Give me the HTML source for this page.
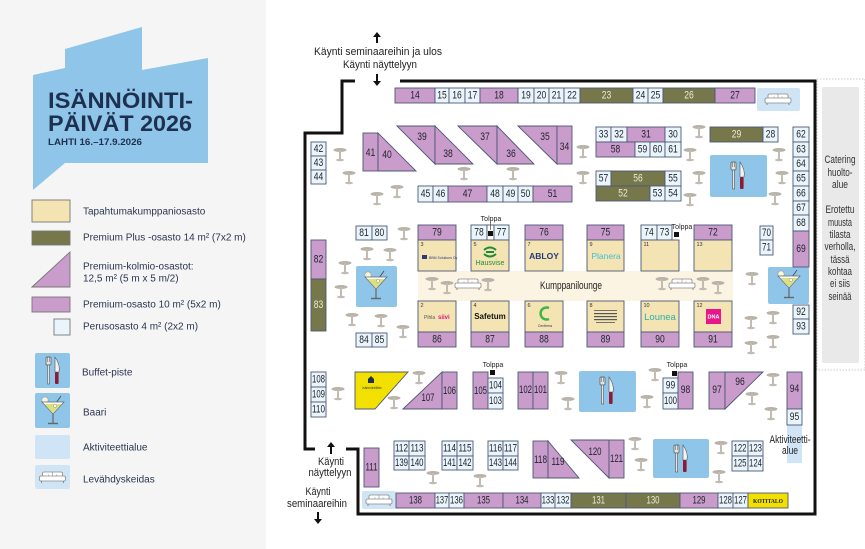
<!DOCTYPE html>
<html><head><meta charset="utf-8"><style>
html,body{margin:0;padding:0;background:#fff}
svg{display:block}
.n{font-family:"Liberation Sans",sans-serif;font-size:11px;fill:#22252f;text-anchor:middle;dominant-baseline:central}
.w{fill:#ecebd8}
.p{fill:#c99ccb;stroke:#4d5874;stroke-width:.9}
.o{fill:#76784b;stroke:#4d5874;stroke-width:.9}
.b{fill:#f4e4b4;stroke:#4d5874;stroke-width:.9}
.l{fill:#eaf4fb;stroke:#4d5874;stroke-width:.9}
.s{font-family:"Liberation Sans",sans-serif;font-size:5.5px;fill:#333}
.t{font-family:"Liberation Sans",sans-serif;font-size:11px;fill:#222;text-anchor:middle;dominant-baseline:central}
.lg{font-family:"Liberation Sans",sans-serif;font-size:10px;fill:#2a3550;dominant-baseline:central}
.tp{font-family:"Liberation Sans",sans-serif;font-size:7px;fill:#222;text-anchor:middle}
</style></head><body>
<svg width="865" height="549" viewBox="0 0 865 549" xmlns="http://www.w3.org/2000/svg">
<defs>
<g id="tb"><ellipse cx="0" cy="0" rx="6.5" ry="2" fill="#b9b2a8"/><rect x="-1" y="0" width="2" height="9" fill="#c2bbb1"/><ellipse cx="0" cy="10" rx="4" ry="1.2" fill="#c2bbb1"/></g>
<g id="fk"><rect x="-7" y="-14" width="5" height="8" rx="1" fill="#e4e4e4" stroke="#555" stroke-width=".7"/><line x1="-5.7" y1="-14" x2="-5.7" y2="-9" stroke="#555" stroke-width=".5"/><line x1="-3.3" y1="-14" x2="-3.3" y2="-9" stroke="#555" stroke-width=".5"/><rect x="-5.5" y="-6" width="2" height="19" fill="#e4e4e4" stroke="#555" stroke-width=".6"/><path d="M2,-14 Q7.5,-6 6,1 L2,1 Z" fill="#f2f2f2" stroke="#555" stroke-width=".6"/><rect x="2" y="1" width="3.6" height="12" rx="1" fill="#8d1b33"/></g>
<g id="mt"><circle cx="-8" cy="-10" r="3.2" fill="#f6f6dc" stroke="#999" stroke-width=".6"/><line x1="3" y1="-7" x2="8" y2="-14" stroke="#444" stroke-width=".8"/><path d="M-11,-8 L11,-8 L0,4 Z" fill="#fff" stroke="#666" stroke-width=".7"/><path d="M-8.5,-6 L8.5,-6 L0,3 Z" fill="#dbe27c"/><circle cx="2" cy="-4" r="1.6" fill="#fff" stroke="#777" stroke-width=".4"/><line x1="0" y1="4" x2="0" y2="13" stroke="#666" stroke-width="1.2"/><line x1="-5" y1="13.5" x2="5" y2="13.5" stroke="#666" stroke-width="1.4"/></g>
<g id="sf"><rect x="-10" y="-5" width="20" height="7" rx="1.5" fill="#fff" stroke="#8a8a8a" stroke-width=".8"/><line x1="0" y1="-5" x2="0" y2="2" stroke="#8a8a8a" stroke-width=".6"/><rect x="-13" y="-1" width="26" height="5" rx="1.5" fill="#fff" stroke="#8a8a8a" stroke-width=".8"/><line x1="-11" y1="4" x2="-11" y2="6" stroke="#8a8a8a"/><line x1="11" y1="4" x2="11" y2="6" stroke="#8a8a8a"/><circle cx="-4" cy="-2" r=".5" fill="#999"/><circle cx="4" cy="-2" r=".5" fill="#999"/></g>
</defs>

<!-- left panel -->
<rect x="0" y="0" width="266" height="549" fill="#f5f5f5"/>
<polygon points="33,75 65,68 65,49 142,27 142,70 208,58 208,163 65,163 33,190" fill="#8fc5e8"/>
<text x="48" y="108" font-family="Liberation Sans,sans-serif" font-weight="bold" font-size="22" fill="#1e3050" textLength="145" lengthAdjust="spacingAndGlyphs">ISÄNNÖINTI-</text>
<text x="48" y="131" font-family="Liberation Sans,sans-serif" font-weight="bold" font-size="22" fill="#1e3050" textLength="144" lengthAdjust="spacingAndGlyphs">PÄIVÄT 2026</text>
<text x="48" y="145" font-family="Liberation Sans,sans-serif" font-weight="bold" font-size="9" fill="#1e3050" textLength="94" lengthAdjust="spacingAndGlyphs">LAHTI 16.–17.9.2026</text>

<rect x="32" y="200" width="38" height="22" fill="#f4e4b4" stroke="#777" stroke-width=".9"/>
<text class="lg" x="83" y="212">Tapahtumakumppaniosasto</text>
<rect x="32" y="231" width="38" height="14" fill="#76784b" stroke="#777" stroke-width=".9"/>
<text class="lg" x="83" y="238">Premium Plus -osasto 14 m² (7x2 m)</text>
<polygon points="32,287 70,252 70,287" fill="#c99ccb" stroke="#777" stroke-width=".9"/>
<text class="lg" x="83" y="267">Premium-kolmio-osastot:</text>
<text class="lg" x="83" y="279">12,5 m² (5 m x 5 m/2)</text>
<rect x="32" y="297" width="38" height="15" fill="#c99ccb" stroke="#777" stroke-width=".9"/>
<text class="lg" x="83" y="305">Premium-osasto 10 m² (5x2 m)</text>
<rect x="54" y="319" width="16" height="16" fill="#eaf4fb" stroke="#777" stroke-width=".9"/>
<text class="lg" x="83" y="327">Perusosasto 4 m² (2x2 m)</text>
<rect x="35" y="353" width="35" height="35" rx="2" fill="#8fc5e8"/>
<use href="#fk" x="53" y="371"/>
<text class="lg" x="82" y="373">Buffet-piste</text>
<rect x="35" y="393" width="35" height="35" rx="2" fill="#8fc5e8"/>
<use href="#mt" x="53" y="410"/>
<text class="lg" x="83" y="413">Baari</text>
<rect x="35" y="435" width="35" height="24" rx="2" fill="#cfe5f6"/>
<text class="lg" x="83" y="448">Aktiviteettialue</text>
<rect x="35" y="465" width="35" height="24" rx="2" fill="#cfe5f6"/>
<use href="#sf" x="52.5" y="477"/>
<text class="lg" x="83" y="480">Levähdyskeidas</text>

<!-- catering -->
<rect x="817" y="79" width="48" height="291" fill="none" stroke="#bbb" stroke-width=".8" stroke-dasharray="1.5,1.5"/>
<rect x="822" y="87" width="37" height="276" rx="2" fill="#e9e9e9"/>
<g font-family="Liberation Sans,sans-serif" font-size="11" fill="#333" text-anchor="middle" dominant-baseline="central">
<text x="840" y="160" textLength="31" lengthAdjust="spacingAndGlyphs">Catering</text>
<text x="840" y="173" textLength="25" lengthAdjust="spacingAndGlyphs">huolto-</text>
<text x="840" y="185" textLength="16" lengthAdjust="spacingAndGlyphs">alue</text>
<text x="840" y="210" textLength="29" lengthAdjust="spacingAndGlyphs">Erotettu</text>
<text x="840" y="223" textLength="24" lengthAdjust="spacingAndGlyphs">muusta</text>
<text x="840" y="235" textLength="21" lengthAdjust="spacingAndGlyphs">tilasta</text>
<text x="840" y="247" textLength="31" lengthAdjust="spacingAndGlyphs">verholla,</text>
<text x="840" y="260" textLength="19" lengthAdjust="spacingAndGlyphs">tässä</text>
<text x="840" y="272" textLength="24" lengthAdjust="spacingAndGlyphs">kohtaa</text>
<text x="840" y="284" textLength="20" lengthAdjust="spacingAndGlyphs">ei siis</text>
<text x="840" y="297" textLength="23" lengthAdjust="spacingAndGlyphs">seinää</text>
</g>

<!-- walls -->
<polyline points="355,81 342,81 342,133 305,133 305,449 315,449" fill="none" stroke="#111" stroke-width="3"/>
<polyline points="400,81 815,81 815,514 358,514 358,449 346,449" fill="none" stroke="#111" stroke-width="3"/>

<!-- entrance labels & arrows -->
<g fill="#111">
<polygon points="377,32 373,37 376,37 376,43 378,43 378,37 381,37"/>
<polygon points="377,86 373,81 376,81 376,74 378,74 378,81 381,81"/>
<polygon points="331,442 327,447 330,447 330,454 332,454 332,447 335,447"/>
<polygon points="318,524 314,519 317,519 317,512 319,512 319,519 322,519"/>
</g>
<text class="t" x="378" y="52" textLength="128" lengthAdjust="spacingAndGlyphs">Käynti seminaareihin ja ulos</text>
<text class="t" x="380" y="65" textLength="74" lengthAdjust="spacingAndGlyphs">Käynti näyttelyyn</text>
<text class="t" x="331" y="462" textLength="26" lengthAdjust="spacingAndGlyphs">Käynti</text>
<text class="t" x="330" y="473" textLength="43" lengthAdjust="spacingAndGlyphs">näyttelyyn</text>
<text class="t" x="318" y="492" textLength="25" lengthAdjust="spacingAndGlyphs">Käynti</text>
<text class="t" x="317" y="504" textLength="60" lengthAdjust="spacingAndGlyphs">seminaareihin</text>

<!-- areas -->
<rect x="757" y="88" width="43" height="23" rx="2" fill="#cfe5f6"/><use href="#sf" x="778" y="99"/>
<rect x="710" y="155" width="57" height="42" rx="2" fill="#8fc5e8"/><use href="#fk" x="738" y="176"/>
<rect x="356" y="266" width="41" height="41" rx="2" fill="#8fc5e8"/><use href="#mt" x="376" y="285"/>
<rect x="768" y="267" width="41" height="37" rx="2" fill="#8fc5e8"/><use href="#mt" x="789" y="284"/>
<rect x="418" y="271" width="315" height="30" fill="#fcf4e2"/>
<text class="t" x="571" y="286" textLength="62" lengthAdjust="spacingAndGlyphs">Kumppanilounge</text>
<use href="#sf" x="468" y="284"/><use href="#sf" x="682" y="284"/>
<rect x="579" y="371" width="57" height="41" rx="2" fill="#8fc5e8"/><use href="#fk" x="607" y="391"/>
<rect x="653" y="439" width="56" height="39" rx="2" fill="#8fc5e8"/><use href="#fk" x="681" y="459"/>
<rect x="787" y="425" width="15" height="38" fill="#cfe5f6"/>
<text class="t" x="790" y="440" textLength="41" lengthAdjust="spacingAndGlyphs">Aktiviteetti-</text>
<text class="t" x="790" y="451" textLength="16" lengthAdjust="spacingAndGlyphs">alue</text>
<rect x="362" y="491" width="34" height="18" rx="2" fill="#cfe5f6"/><use href="#sf" x="379" y="500"/>

<!-- tables -->
<g>
<use href="#tb" x="340" y="150"/><use href="#tb" x="349" y="173"/><use href="#tb" x="377" y="194"/><use href="#tb" x="397" y="187"/>
<use href="#tb" x="464" y="169"/><use href="#tb" x="513" y="169"/><use href="#tb" x="583" y="147"/><use href="#tb" x="583" y="173"/>
<use href="#tb" x="699" y="127"/><use href="#tb" x="690" y="150"/><use href="#tb" x="699" y="173"/><use href="#tb" x="690" y="195"/>
<use href="#tb" x="779" y="150"/><use href="#tb" x="782" y="173"/><use href="#tb" x="775" y="194"/>
<use href="#tb" x="404" y="229"/><use href="#tb" x="367" y="249"/><use href="#tb" x="390" y="250"/><use href="#tb" x="345" y="263"/>
<use href="#tb" x="341" y="287"/><use href="#tb" x="352" y="315"/><use href="#tb" x="381" y="316"/><use href="#tb" x="403" y="327"/>
<use href="#tb" x="432" y="279"/><use href="#tb" x="447" y="283"/><use href="#tb" x="488" y="280"/>
<use href="#tb" x="662" y="279"/><use href="#tb" x="703" y="279"/><use href="#tb" x="718" y="283"/>
<use href="#tb" x="752" y="274"/><use href="#tb" x="751" y="318"/><use href="#tb" x="773" y="313"/><use href="#tb" x="751" y="343"/><use href="#tb" x="773" y="337"/>
<use href="#tb" x="338" y="389"/><use href="#tb" x="419" y="373"/><use href="#tb" x="394" y="398"/><use href="#tb" x="561" y="373"/><use href="#tb" x="568" y="399"/>
<use href="#tb" x="655" y="370"/><use href="#tb" x="647" y="397"/><use href="#tb" x="773" y="375"/><use href="#tb" x="752" y="394"/><use href="#tb" x="771" y="409"/>
<use href="#tb" x="433" y="473"/><use href="#tb" x="480" y="476"/><use href="#tb" x="635" y="439"/><use href="#tb" x="641" y="460"/><use href="#tb" x="721" y="443"/><use href="#tb" x="719" y="472"/>
</g>

<!-- top row -->
<rect class="p" x="395" y="88" width="40" height="15"/><rect class="l" x="435" y="88" width="14" height="15"/><rect class="l" x="449" y="88" width="16" height="15"/><rect class="l" x="465" y="88" width="15" height="15"/>
<rect class="p" x="480" y="88" width="38" height="15"/><rect class="l" x="518" y="88" width="16" height="15"/><rect class="l" x="534" y="88" width="15" height="15"/><rect class="l" x="549" y="88" width="15" height="15"/><rect class="l" x="564" y="88" width="16" height="15"/>
<rect class="o" x="580" y="88" width="53" height="15"/><rect class="l" x="633" y="88" width="15" height="15"/><rect class="l" x="648" y="88" width="15" height="15"/><rect class="o" x="663" y="88" width="52" height="15"/><rect class="p" x="715" y="88" width="40" height="15"/>
<text class="n" x="415" y="95.5" textLength="9.5" lengthAdjust="spacingAndGlyphs">14</text>
<text class="n" x="442" y="95.5" textLength="9.5" lengthAdjust="spacingAndGlyphs">15</text>
<text class="n" x="457" y="95.5" textLength="9.5" lengthAdjust="spacingAndGlyphs">16</text>
<text class="n" x="472.5" y="95.5" textLength="9.5" lengthAdjust="spacingAndGlyphs">17</text>
<text class="n" x="499" y="95.5" textLength="9.5" lengthAdjust="spacingAndGlyphs">18</text>
<text class="n" x="526" y="95.5" textLength="9.5" lengthAdjust="spacingAndGlyphs">19</text>
<text class="n" x="541.5" y="95.5" textLength="9.5" lengthAdjust="spacingAndGlyphs">20</text>
<text class="n" x="556.5" y="95.5" textLength="9.5" lengthAdjust="spacingAndGlyphs">21</text>
<text class="n" x="572" y="95.5" textLength="9.5" lengthAdjust="spacingAndGlyphs">22</text>
<text class="n w" x="606.5" y="95.5" textLength="9.5" lengthAdjust="spacingAndGlyphs">23</text>
<text class="n" x="640.5" y="95.5" textLength="9.5" lengthAdjust="spacingAndGlyphs">24</text>
<text class="n" x="655.5" y="95.5" textLength="9.5" lengthAdjust="spacingAndGlyphs">25</text>
<text class="n w" x="689" y="95.5" textLength="9.5" lengthAdjust="spacingAndGlyphs">26</text>
<text class="n" x="735" y="95.5" textLength="9.5" lengthAdjust="spacingAndGlyphs">27</text>

<!-- triangles row -->
<rect class="p" x="363" y="133" width="15" height="38"/>
<polygon class="p" points="378,133 378,171 416,171"/>
<polygon class="p" points="397,126 435,126 435,164"/><polygon class="p" points="435,126 473,164 435,164"/>
<polygon class="p" points="458,126 497,126 497,164"/><polygon class="p" points="497,126 534,164 497,164"/>
<polygon class="p" points="518,126 557,126 557,164"/><rect class="p" x="557" y="126" width="15" height="38"/>
<text class="n" x="370.5" y="153" textLength="9.5" lengthAdjust="spacingAndGlyphs">41</text>
<text class="n" x="387" y="155" textLength="9.5" lengthAdjust="spacingAndGlyphs">40</text>
<text class="n" x="422" y="137" textLength="9.5" lengthAdjust="spacingAndGlyphs">39</text>
<text class="n" x="448" y="154" textLength="9.5" lengthAdjust="spacingAndGlyphs">38</text>
<text class="n" x="485" y="137" textLength="9.5" lengthAdjust="spacingAndGlyphs">37</text>
<text class="n" x="511" y="154" textLength="9.5" lengthAdjust="spacingAndGlyphs">36</text>
<text class="n" x="545" y="137" textLength="9.5" lengthAdjust="spacingAndGlyphs">35</text>
<text class="n" x="564.5" y="147" textLength="9.5" lengthAdjust="spacingAndGlyphs">34</text>

<rect class="l" x="311" y="142" width="15" height="14"/><rect class="l" x="311" y="156" width="15" height="14"/><rect class="l" x="311" y="170" width="15" height="14"/>
<text class="n" x="318.5" y="149" textLength="9.5" lengthAdjust="spacingAndGlyphs">42</text>
<text class="n" x="318.5" y="163" textLength="9.5" lengthAdjust="spacingAndGlyphs">43</text>
<text class="n" x="318.5" y="177" textLength="9.5" lengthAdjust="spacingAndGlyphs">44</text>

<rect class="l" x="418" y="186" width="15" height="16"/><rect class="l" x="433" y="186" width="15" height="16"/><rect class="p" x="448" y="186" width="39" height="16"/>
<rect class="l" x="487" y="186" width="16" height="16"/><rect class="l" x="503" y="186" width="15" height="16"/><rect class="l" x="518" y="186" width="15" height="16"/><rect class="p" x="533" y="186" width="39" height="16"/>
<text class="n" x="425.5" y="194" textLength="9.5" lengthAdjust="spacingAndGlyphs">45</text>
<text class="n" x="440.5" y="194" textLength="9.5" lengthAdjust="spacingAndGlyphs">46</text>
<text class="n" x="467.5" y="194" textLength="9.5" lengthAdjust="spacingAndGlyphs">47</text>
<text class="n" x="495" y="194" textLength="9.5" lengthAdjust="spacingAndGlyphs">48</text>
<text class="n" x="510.5" y="194" textLength="9.5" lengthAdjust="spacingAndGlyphs">49</text>
<text class="n" x="525.5" y="194" textLength="9.5" lengthAdjust="spacingAndGlyphs">50</text>
<text class="n" x="552.5" y="194" textLength="9.5" lengthAdjust="spacingAndGlyphs">51</text>

<!-- block 30-61 -->
<rect class="l" x="596" y="127" width="15" height="15"/><rect class="l" x="611" y="127" width="16" height="15"/><rect class="p" x="627" y="127" width="38" height="15"/><rect class="l" x="665" y="127" width="16" height="15"/>
<rect class="p" x="596" y="142" width="39" height="15"/><rect class="l" x="635" y="142" width="15" height="15"/><rect class="l" x="650" y="142" width="15" height="15"/><rect class="l" x="665" y="142" width="16" height="15"/>
<rect class="l" x="596" y="171" width="15" height="15"/><rect class="o" x="611" y="171" width="54" height="15"/><rect class="l" x="665" y="171" width="16" height="15"/>
<rect class="o" x="596" y="186" width="54" height="15"/><rect class="l" x="650" y="186" width="15" height="15"/><rect class="l" x="665" y="186" width="16" height="15"/>
<rect class="o" x="710" y="127" width="53" height="15"/><rect class="l" x="763" y="127" width="15" height="15"/>
<text class="n" x="603.5" y="134.5" textLength="9.5" lengthAdjust="spacingAndGlyphs">33</text>
<text class="n" x="619" y="134.5" textLength="9.5" lengthAdjust="spacingAndGlyphs">32</text>
<text class="n" x="646" y="134.5" textLength="9.5" lengthAdjust="spacingAndGlyphs">31</text>
<text class="n" x="673" y="134.5" textLength="9.5" lengthAdjust="spacingAndGlyphs">30</text>
<text class="n" x="615.5" y="149.5" textLength="9.5" lengthAdjust="spacingAndGlyphs">58</text>
<text class="n" x="642.5" y="149.5" textLength="9.5" lengthAdjust="spacingAndGlyphs">59</text>
<text class="n" x="657.5" y="149.5" textLength="9.5" lengthAdjust="spacingAndGlyphs">60</text>
<text class="n" x="673" y="149.5" textLength="9.5" lengthAdjust="spacingAndGlyphs">61</text>
<text class="n" x="603.5" y="178.5" textLength="9.5" lengthAdjust="spacingAndGlyphs">57</text>
<text class="n w" x="638" y="178.5" textLength="9.5" lengthAdjust="spacingAndGlyphs">56</text>
<text class="n" x="673" y="178.5" textLength="9.5" lengthAdjust="spacingAndGlyphs">55</text>
<text class="n w" x="623" y="193.5" textLength="9.5" lengthAdjust="spacingAndGlyphs">52</text>
<text class="n" x="657.5" y="193.5" textLength="9.5" lengthAdjust="spacingAndGlyphs">53</text>
<text class="n" x="673" y="193.5" textLength="9.5" lengthAdjust="spacingAndGlyphs">54</text>
<text class="n w" x="736.5" y="134.5" textLength="9.5" lengthAdjust="spacingAndGlyphs">29</text>
<text class="n" x="770.5" y="134.5" textLength="9.5" lengthAdjust="spacingAndGlyphs">28</text>

<!-- right column 62-69 -->
<rect class="l" x="793" y="127" width="16" height="15"/><rect class="l" x="793" y="142" width="16" height="15"/><rect class="l" x="793" y="157" width="16" height="14"/><rect class="l" x="793" y="171" width="16" height="15"/>
<rect class="l" x="793" y="186" width="16" height="15"/><rect class="l" x="793" y="201" width="16" height="14"/><rect class="l" x="793" y="215" width="16" height="16"/><rect class="p" x="793" y="231" width="16" height="36"/>
<text class="n" x="801" y="134.5" textLength="9.5" lengthAdjust="spacingAndGlyphs">62</text>
<text class="n" x="801" y="149.5" textLength="9.5" lengthAdjust="spacingAndGlyphs">63</text>
<text class="n" x="801" y="164" textLength="9.5" lengthAdjust="spacingAndGlyphs">64</text>
<text class="n" x="801" y="178.5" textLength="9.5" lengthAdjust="spacingAndGlyphs">65</text>
<text class="n" x="801" y="193.5" textLength="9.5" lengthAdjust="spacingAndGlyphs">66</text>
<text class="n" x="801" y="208" textLength="9.5" lengthAdjust="spacingAndGlyphs">67</text>
<text class="n" x="801" y="223" textLength="9.5" lengthAdjust="spacingAndGlyphs">68</text>
<text class="n" x="801" y="249" textLength="9.5" lengthAdjust="spacingAndGlyphs">69</text>

<!-- middle left -->
<rect class="l" x="356" y="226" width="16" height="14"/><rect class="l" x="372" y="226" width="15" height="14"/>
<rect class="p" x="311" y="240" width="15" height="39"/><rect class="o" x="311" y="279" width="15" height="52"/>
<rect class="l" x="356" y="333" width="16" height="14"/><rect class="l" x="372" y="333" width="15" height="14"/>
<text class="n" x="364" y="233" textLength="9.5" lengthAdjust="spacingAndGlyphs">81</text>
<text class="n" x="379.5" y="233" textLength="9.5" lengthAdjust="spacingAndGlyphs">80</text>
<text class="n" x="318.5" y="259.5" textLength="9.5" lengthAdjust="spacingAndGlyphs">82</text>
<text class="n w" x="318.5" y="305" textLength="9.5" lengthAdjust="spacingAndGlyphs">83</text>
<text class="n" x="364" y="340" textLength="9.5" lengthAdjust="spacingAndGlyphs">84</text>
<text class="n" x="379.5" y="340" textLength="9.5" lengthAdjust="spacingAndGlyphs">85</text>

<!-- partner stands top -->
<rect class="p" x="418" y="225" width="38" height="15"/>
<rect class="l" x="471" y="225" width="16" height="15"/><rect x="487" y="225" width="7" height="15" fill="#fff" stroke="#4d5874" stroke-width=".9"/><rect class="l" x="494" y="225" width="15" height="15"/>
<rect class="p" x="525" y="225" width="38" height="15"/>
<rect class="p" x="587" y="225" width="37" height="15"/>
<rect class="l" x="641" y="225" width="16" height="15"/><rect class="l" x="657" y="225" width="15" height="15"/>
<rect class="p" x="694" y="225" width="38" height="15"/>
<rect class="b" x="418" y="240" width="38" height="31"/><rect class="b" x="471" y="240" width="38" height="31"/><rect class="b" x="525" y="240" width="38" height="31"/>
<rect class="b" x="587" y="240" width="37" height="31"/><rect class="b" x="641" y="240" width="38" height="31"/><rect class="b" x="694" y="240" width="38" height="31"/>
<rect x="488" y="231" width="5" height="5" fill="#111"/><line x1="490.5" y1="222" x2="490.5" y2="230" stroke="#333" stroke-width=".6"/>
<text class="tp" x="491" y="221">Tolppa</text>
<rect x="674" y="232" width="5" height="5" fill="#111"/>
<text class="tp" x="682" y="229">Tolppa</text>
<text class="n" x="437" y="232.5" textLength="9.5" lengthAdjust="spacingAndGlyphs">79</text>
<text class="n" x="479" y="232.5" textLength="9.5" lengthAdjust="spacingAndGlyphs">78</text>
<text class="n" x="501.5" y="232.5" textLength="9.5" lengthAdjust="spacingAndGlyphs">77</text>
<text class="n" x="544" y="232.5" textLength="9.5" lengthAdjust="spacingAndGlyphs">76</text>
<text class="n" x="605.5" y="232.5" textLength="9.5" lengthAdjust="spacingAndGlyphs">75</text>
<text class="n" x="649" y="232.5" textLength="9.5" lengthAdjust="spacingAndGlyphs">74</text>
<text class="n" x="664.5" y="232.5" textLength="9.5" lengthAdjust="spacingAndGlyphs">73</text>
<text class="n" x="713" y="232.5" textLength="9.5" lengthAdjust="spacingAndGlyphs">72</text>
<text class="s" x="420.5" y="246">3</text><text class="s" x="473.5" y="246">5</text><text class="s" x="527.5" y="246">7</text>
<text class="s" x="589.5" y="246">9</text><text class="s" x="643.5" y="246">11</text><text class="s" x="696.5" y="246">13</text>
<!-- logos top -->
<rect x="422" y="255" width="5" height="4" fill="#2b3a7a"/><text x="429" y="259" font-family="Liberation Sans,sans-serif" font-size="3.5" fill="#2b3a7a">BBM Solutions Oy</text>
<path d="M484,250 q6,-5 12,0 M484,254 q6,5 12,0 M486,252 h8" fill="none" stroke="#1f8a3b" stroke-width="2"/>
<text x="490" y="265" font-family="Liberation Sans,sans-serif" font-size="7" fill="#1f8a3b" text-anchor="middle">Hausvise</text>
<text x="544" y="259" font-family="Liberation Sans,sans-serif" font-size="8.5" font-weight="bold" fill="#243a7a" text-anchor="middle">ABLOY</text>
<text x="606" y="259" font-family="Liberation Sans,sans-serif" font-size="8.5" fill="#3ec0d6" text-anchor="middle">Planera</text>

<!-- partner stands bottom -->
<rect class="b" x="418" y="301" width="38" height="31"/><rect class="b" x="471" y="301" width="38" height="31"/><rect class="b" x="525" y="301" width="38" height="31"/>
<rect class="b" x="587" y="301" width="37" height="31"/><rect class="b" x="641" y="301" width="38" height="31"/><rect class="b" x="694" y="301" width="38" height="31"/>
<rect class="p" x="418" y="332" width="38" height="15"/><rect class="p" x="471" y="332" width="38" height="15"/><rect class="p" x="525" y="332" width="38" height="15"/>
<rect class="p" x="587" y="332" width="37" height="15"/><rect class="p" x="641" y="332" width="38" height="15"/><rect class="p" x="694" y="332" width="38" height="15"/>
<text class="s" x="420.5" y="307">2</text><text class="s" x="473.5" y="307">4</text><text class="s" x="527.5" y="307">6</text>
<text class="s" x="589.5" y="307">8</text><text class="s" x="643.5" y="307">10</text><text class="s" x="696.5" y="307">12</text>
<text class="n" x="437" y="339.5" textLength="9.5" lengthAdjust="spacingAndGlyphs">86</text>
<text class="n" x="490" y="339.5" textLength="9.5" lengthAdjust="spacingAndGlyphs">87</text>
<text class="n" x="544" y="339.5" textLength="9.5" lengthAdjust="spacingAndGlyphs">88</text>
<text class="n" x="605.5" y="339.5" textLength="9.5" lengthAdjust="spacingAndGlyphs">89</text>
<text class="n" x="660" y="339.5" textLength="9.5" lengthAdjust="spacingAndGlyphs">90</text>
<text class="n" x="713" y="339.5" textLength="9.5" lengthAdjust="spacingAndGlyphs">91</text>
<text x="424" y="319" font-family="Liberation Sans,sans-serif" font-size="5" fill="#555">Pihla</text>
<text x="438" y="319" font-family="Liberation Sans,sans-serif" font-size="6" font-weight="bold" fill="#e0157f">siivi</text>
<text x="490" y="319" font-family="Liberation Sans,sans-serif" font-size="8" font-weight="bold" fill="#111" text-anchor="middle">Safetum</text>
<path d="M549,308 A6,6 0 1 0 549,319" fill="none" stroke="#3cb54a" stroke-width="2.5"/>
<text x="545" y="327" font-family="Liberation Sans,sans-serif" font-size="3.5" fill="#333" text-anchor="middle">Cenfirma</text>
<g fill="#555"><rect x="594" y="310" width="23" height=".8"/><rect x="594" y="313" width="23" height="1.2"/><rect x="594" y="316" width="23" height="1.2"/><rect x="594" y="319" width="23" height="1.2"/><rect x="596" y="322" width="19" height=".8"/></g>
<text x="660" y="320" font-family="Liberation Sans,sans-serif" font-size="9.5" fill="#2fb0a8" text-anchor="middle">Lounea</text>
<rect x="706" y="309" width="15" height="15" fill="#e8168a"/>
<text x="713.5" y="318.5" font-family="Liberation Sans,sans-serif" font-size="5.5" font-weight="bold" fill="#fff" text-anchor="middle">DNA</text>

<!-- 70/71, 92/93 -->
<rect class="l" x="760" y="226" width="13" height="14"/><rect class="l" x="760" y="240" width="13" height="15"/>
<text class="n" x="766.5" y="233" textLength="9" lengthAdjust="spacingAndGlyphs">70</text>
<text class="n" x="766.5" y="247.5" textLength="9" lengthAdjust="spacingAndGlyphs">71</text>
<rect class="l" x="793" y="305" width="16" height="14"/><rect class="l" x="793" y="319" width="16" height="15"/>
<text class="n" x="801" y="312" textLength="9.5" lengthAdjust="spacingAndGlyphs">92</text>
<text class="n" x="801" y="326.5" textLength="9.5" lengthAdjust="spacingAndGlyphs">93</text>

<!-- lower row 94-110 -->
<rect class="l" x="311" y="372" width="15" height="15"/><rect class="l" x="311" y="387" width="15" height="15"/><rect class="l" x="311" y="402" width="15" height="15"/>
<text class="n" x="318.5" y="379.5" textLength="13" lengthAdjust="spacingAndGlyphs">108</text>
<text class="n" x="318.5" y="394.5" textLength="13" lengthAdjust="spacingAndGlyphs">109</text>
<text class="n" x="318.5" y="409.5" textLength="13" lengthAdjust="spacingAndGlyphs">110</text>
<polygon points="355,372 408,372 375,409 355,409" fill="#f2e000" stroke="#4d5874" stroke-width=".9"/>
<path d="M368,379 l3,-3 l3,3 v4 h-6 z" fill="#1e3050"/>
<text x="372" y="389" font-family="Liberation Sans,sans-serif" font-size="3.2" fill="#1e3050" text-anchor="middle">isännöintiliitto</text>
<polygon class="p" points="403,409 442,372 442,409"/><rect class="p" x="442" y="372" width="15" height="37"/>
<text class="n" x="428" y="398" textLength="13" lengthAdjust="spacingAndGlyphs">107</text>
<text class="n" x="449.5" y="391" textLength="13" lengthAdjust="spacingAndGlyphs">106</text>
<rect class="p" x="473" y="372" width="15" height="37"/><rect class="l" x="488" y="378" width="15" height="15"/><rect class="l" x="488" y="393" width="15" height="16"/>
<rect x="490" y="370" width="5" height="5" fill="#111"/><text class="tp" x="493" y="367">Tolppa</text>
<text class="n" x="480.5" y="391" textLength="13" lengthAdjust="spacingAndGlyphs">105</text>
<text class="n" x="495.5" y="385.5" textLength="13" lengthAdjust="spacingAndGlyphs">104</text>
<text class="n" x="495.5" y="401" textLength="13" lengthAdjust="spacingAndGlyphs">103</text>
<rect class="p" x="518" y="372" width="15" height="37"/><rect class="p" x="533" y="372" width="15" height="37"/>
<text class="n" x="525.5" y="390" textLength="13" lengthAdjust="spacingAndGlyphs">102</text>
<text class="n" x="540.5" y="390" textLength="13" lengthAdjust="spacingAndGlyphs">101</text>
<rect class="l" x="663" y="378" width="15" height="15"/><rect class="l" x="663" y="393" width="15" height="16"/><rect class="p" x="678" y="372" width="15" height="37"/>
<rect x="672" y="371" width="5" height="5" fill="#111"/><text class="tp" x="677" y="367">Tolppa</text>
<text class="n" x="670.5" y="385.5" textLength="9.5" lengthAdjust="spacingAndGlyphs">99</text>
<text class="n" x="670.5" y="401" textLength="13" lengthAdjust="spacingAndGlyphs">100</text>
<text class="n" x="685.5" y="390" textLength="9.5" lengthAdjust="spacingAndGlyphs">98</text>
<rect class="p" x="709" y="372" width="16" height="37"/><polygon class="p" points="725,372 763,372 725,409"/>
<text class="n" x="717" y="390" textLength="9.5" lengthAdjust="spacingAndGlyphs">97</text>
<text class="n" x="740" y="382" textLength="9.5" lengthAdjust="spacingAndGlyphs">96</text>
<rect class="p" x="787" y="372" width="15" height="37"/><rect class="l" x="787" y="409" width="15" height="16"/>
<text class="n" x="794.5" y="389" textLength="9.5" lengthAdjust="spacingAndGlyphs">94</text>
<text class="n" x="794.5" y="417" textLength="9.5" lengthAdjust="spacingAndGlyphs">95</text>

<!-- row 111-144 -->
<rect class="p" x="364" y="448" width="15" height="39"/>
<text class="n" x="371.5" y="467.5" textLength="12" lengthAdjust="spacingAndGlyphs">111</text>
<rect class="l" x="394" y="441" width="15" height="15"/><rect class="l" x="409" y="441" width="16" height="15"/><rect class="l" x="394" y="456" width="15" height="14"/><rect class="l" x="409" y="456" width="16" height="14"/>
<rect class="l" x="442" y="441" width="15" height="15"/><rect class="l" x="457" y="441" width="16" height="15"/><rect class="l" x="442" y="456" width="15" height="14"/><rect class="l" x="457" y="456" width="16" height="14"/>
<rect class="l" x="488" y="441" width="15" height="15"/><rect class="l" x="503" y="441" width="15" height="15"/><rect class="l" x="488" y="456" width="15" height="14"/><rect class="l" x="503" y="456" width="15" height="14"/>
<text class="n" x="401.5" y="448.5" textLength="13" lengthAdjust="spacingAndGlyphs">112</text>
<text class="n" x="417" y="448.5" textLength="13" lengthAdjust="spacingAndGlyphs">113</text>
<text class="n" x="401.5" y="463" textLength="13" lengthAdjust="spacingAndGlyphs">139</text>
<text class="n" x="417" y="463" textLength="13" lengthAdjust="spacingAndGlyphs">140</text>
<text class="n" x="449.5" y="448.5" textLength="13" lengthAdjust="spacingAndGlyphs">114</text>
<text class="n" x="465" y="448.5" textLength="13" lengthAdjust="spacingAndGlyphs">115</text>
<text class="n" x="449.5" y="463" textLength="13" lengthAdjust="spacingAndGlyphs">141</text>
<text class="n" x="465" y="463" textLength="13" lengthAdjust="spacingAndGlyphs">142</text>
<text class="n" x="495.5" y="448.5" textLength="13" lengthAdjust="spacingAndGlyphs">116</text>
<text class="n" x="510.5" y="448.5" textLength="13" lengthAdjust="spacingAndGlyphs">117</text>
<text class="n" x="495.5" y="463" textLength="13" lengthAdjust="spacingAndGlyphs">143</text>
<text class="n" x="510.5" y="463" textLength="13" lengthAdjust="spacingAndGlyphs">144</text>
<rect class="p" x="533" y="441" width="15" height="37"/><polygon class="p" points="548,441 548,478 579,478"/>
<text class="n" x="540.5" y="460" textLength="13" lengthAdjust="spacingAndGlyphs">118</text>
<text class="n" x="558" y="462" textLength="13" lengthAdjust="spacingAndGlyphs">119</text>
<polygon class="p" points="571,440 609,440 609,478"/><rect class="p" x="609" y="440" width="15" height="38"/>
<text class="n" x="595" y="452" textLength="13" lengthAdjust="spacingAndGlyphs">120</text>
<text class="n" x="616.5" y="459" textLength="13" lengthAdjust="spacingAndGlyphs">121</text>
<rect class="l" x="732" y="441" width="16" height="15"/><rect class="l" x="748" y="441" width="15" height="15"/><rect class="l" x="732" y="456" width="16" height="15"/><rect class="l" x="748" y="456" width="15" height="15"/>
<text class="n" x="740" y="448.5" textLength="13" lengthAdjust="spacingAndGlyphs">122</text>
<text class="n" x="755.5" y="448.5" textLength="13" lengthAdjust="spacingAndGlyphs">123</text>
<text class="n" x="740" y="463.5" textLength="13" lengthAdjust="spacingAndGlyphs">125</text>
<text class="n" x="755.5" y="463.5" textLength="13" lengthAdjust="spacingAndGlyphs">124</text>

<!-- bottom row -->
<rect class="p" x="396" y="493" width="39" height="15"/><rect class="l" x="435" y="493" width="14" height="15"/><rect class="l" x="449" y="493" width="15" height="15"/>
<rect class="p" x="464" y="493" width="39" height="15"/><rect class="p" x="503" y="493" width="38" height="15"/><rect class="l" x="541" y="493" width="14" height="15"/><rect class="l" x="555" y="493" width="16" height="15"/>
<rect class="o" x="571" y="493" width="55" height="15"/><rect class="o" x="626" y="493" width="54" height="15"/><rect class="p" x="680" y="493" width="38" height="15"/>
<rect class="l" x="718" y="493" width="15" height="15"/><rect class="l" x="733" y="493" width="15" height="15"/>
<rect x="748" y="493" width="40" height="15" fill="#f2e000" stroke="#4d5874" stroke-width=".9"/>
<text x="768" y="503" font-family="Liberation Serif,serif" font-size="6" font-weight="bold" fill="#222" text-anchor="middle" textLength="30" lengthAdjust="spacingAndGlyphs">KOTITALO</text>
<text class="n" x="415.5" y="500.5" textLength="13" lengthAdjust="spacingAndGlyphs">138</text>
<text class="n" x="442" y="500.5" textLength="12.5" lengthAdjust="spacingAndGlyphs">137</text>
<text class="n" x="456.5" y="500.5" textLength="13" lengthAdjust="spacingAndGlyphs">136</text>
<text class="n" x="483.5" y="500.5" textLength="13" lengthAdjust="spacingAndGlyphs">135</text>
<text class="n" x="522" y="500.5" textLength="13" lengthAdjust="spacingAndGlyphs">134</text>
<text class="n" x="548" y="500.5" textLength="12.5" lengthAdjust="spacingAndGlyphs">133</text>
<text class="n" x="563" y="500.5" textLength="13" lengthAdjust="spacingAndGlyphs">132</text>
<text class="n w" x="598.5" y="500.5" textLength="13" lengthAdjust="spacingAndGlyphs">131</text>
<text class="n w" x="653" y="500.5" textLength="13" lengthAdjust="spacingAndGlyphs">130</text>
<text class="n" x="699" y="500.5" textLength="13" lengthAdjust="spacingAndGlyphs">129</text>
<text class="n" x="725.5" y="500.5" textLength="13" lengthAdjust="spacingAndGlyphs">128</text>
<text class="n" x="740.5" y="500.5" textLength="13" lengthAdjust="spacingAndGlyphs">127</text>
</svg>
</body></html>
